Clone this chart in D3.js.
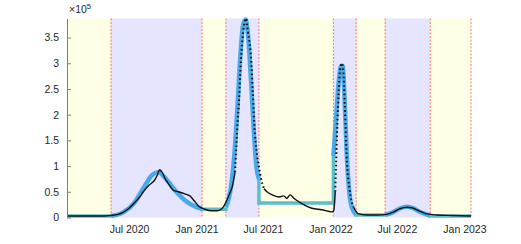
<!DOCTYPE html>
<html>
<head>
<meta charset="utf-8">
<script src="https://cdn.jsdelivr.net/npm/d3@7"></script>
<style>
  body { margin: 0; background: #fff; }
  text { font-family: "Liberation Sans", Arial, sans-serif; fill: #262626; }
</style>
</head>
<body>
<div id="chart"></div>
<script>
const obsDates = ["2020-01-14","2020-03-01","2020-04-25","2020-05-13","2020-06-01","2020-06-15","2020-07-01","2020-07-15",
  "2020-07-28","2020-08-11","2020-08-25","2020-09-08","2020-09-16","2020-09-22","2020-09-30","2020-10-05","2020-10-19",
  "2020-10-30","2020-11-13","2020-11-30","2020-12-14","2020-12-25","2021-01-07","2021-01-24","2021-02-12","2021-02-25",
  "2021-03-11","2021-03-25","2021-04-02","2021-04-08","2021-04-16","2021-04-23","2021-04-27","2021-05-02","2021-05-08",
  "2021-05-16","2021-05-21","2021-05-30","2021-06-03","2021-06-07","2021-06-15","2021-06-21","2021-06-26","2021-07-04",
  "2021-07-12","2021-07-26","2021-08-14","2021-08-27","2021-09-04","2021-09-13","2021-09-24","2021-10-15","2021-11-11",
  "2021-12-08","2022-01-05","2022-01-10","2022-01-14","2022-01-20","2022-01-23","2022-01-27","2022-02-01","2022-02-05",
  "2022-02-09","2022-02-14","2022-02-22","2022-03-05","2022-03-19","2022-04-10","2022-05-07","2022-06-03","2022-06-23",
  "2022-07-09","2022-07-28","2022-08-11","2022-08-30","2022-09-21","2022-10-18","2022-11-28","2023-01-19"];
const obsValues = [0.03,0.03,0.03,0.04,0.06,0.10,0.18,0.28,
  0.38,0.52,0.63,0.72,0.82,0.93,0.87,0.79,0.63,
  0.53,0.50,0.46,0.42,0.33,0.22,0.16,0.13,0.13,
  0.17,0.34,0.48,0.59,0.88,1.86,2.30,3.06,3.60,
  3.87,3.60,3.06,2.50,1.86,1.22,0.95,0.75,0.56,
  0.50,0.44,0.40,0.42,0.37,0.44,0.37,0.27,0.18,
  0.15,0.11,0.14,0.50,1.86,2.40,2.85,3.00,2.85,
  2.20,1.20,0.55,0.20,0.07,0.05,0.05,0.06,0.11,
  0.17,0.20,0.19,0.13,0.07,0.05,0.04,0.03];

// period boundaries (red dashed lines)
const bounds = ["2020-01-14","2020-05-13","2021-01-16","2021-03-22","2021-06-20","2022-01-09","2022-03-12","2022-05-30","2022-09-30","2023-01-19"];
// constant model level in the yellow periods
const flatLevels = [0.03, 0.16, 0.28, 0.05, 0.03];

// fitted wave curves in the blue periods
const waveDates = [
  ["2020-05-13","2020-06-15","2020-07-15","2020-08-10","2020-09-01","2020-09-18","2020-10-10","2020-11-01","2020-12-01","2021-01-01","2021-01-16"],
  ["2021-03-22","2021-04-05","2021-04-15","2021-04-23","2021-05-01","2021-05-08","2021-05-15","2021-05-22","2021-05-30","2021-06-06","2021-06-13","2021-06-20"],
  ["2022-01-09","2022-01-16","2022-01-23","2022-01-30","2022-02-03","2022-02-08","2022-02-14","2022-02-20","2022-02-28","2022-03-12"],
  ["2022-05-30","2022-06-20","2022-07-10","2022-07-28","2022-08-15","2022-09-01","2022-09-15","2022-09-30"]
];
const waveValues = [
  [0.03,0.10,0.28,0.58,0.82,0.88,0.75,0.55,0.33,0.20,0.17],
  [0.20,0.60,1.30,2.20,3.20,3.75,3.85,3.50,2.60,1.70,1.00,0.75],
  [1.20,1.90,2.60,2.95,2.95,2.40,1.30,0.60,0.20,0.06],
  [0.05,0.10,0.18,0.21,0.18,0.11,0.07,0.04]
];

const yTicks = [0, 0.5, 1, 1.5, 2, 2.5, 3, 3.5];
const xTickDates = ["2020-07-01","2021-01-01","2021-07-01","2022-01-01","2022-07-01","2023-01-01"];
const xTickLabels = ["Jul 2020","Jan 2021","Jul 2021","Jan 2022","Jul 2022","Jan 2023"];

// steep peak stretches where the observed points show up as dots
const dottedSpans = [["2021-04-12","2021-06-28"], ["2022-01-12","2022-02-26"]];

const parse = d3.timeParse("%Y-%m-%d");
const W = 521, H = 244;
const margin = {top: 18.5, right: 50, bottom: 26.5, left: 67};
const yMax = 3.87;

const svg = d3.select("#chart").append("svg")
  .attr("width", W).attr("height", H);

const x = d3.scaleTime()
  .domain([parse(bounds[0]), parse(bounds[bounds.length - 1])])
  .range([margin.left, W - margin.right]);
const y = d3.scaleLinear()
  .domain([0, yMax])
  .range([H - margin.bottom, margin.top]);

// background bands
const bandColors = ["#ffffe6", "#e5e5ff"];
for (let i = 0; i < bounds.length - 1; i++) {
  svg.append("rect")
    .attr("x", x(parse(bounds[i])))
    .attr("y", y(yMax))
    .attr("width", x(parse(bounds[i + 1])) - x(parse(bounds[i])))
    .attr("height", y(0) - y(yMax))
    .attr("fill", bandColors[i % 2]);
}

// red dashed boundaries
svg.selectAll(".bound")
  .data(bounds.slice(1))
  .enter().append("line")
  .attr("x1", d => x(parse(d))).attr("x2", d => x(parse(d)))
  .attr("y1", y(yMax)).attr("y2", y(0))
  .attr("stroke", "#ff5050")
  .attr("stroke-width", 0.8)
  .attr("stroke-dasharray", "2,1.5");

const line = d3.line()
  .x(d => x(d.date))
  .y(d => y(d.value));

const smooth = d3.line()
  .x(d => x(d.date))
  .y(d => y(d.value))
  .curve(d3.curveMonotoneX);

// flat (teal) pieces with their jumps
const waveStart = waveValues.map(v => v[0]);
const waveEnd = waveValues.map(v => v[v.length - 1]);
for (let k = 0; k < flatLevels.length; k++) {
  const s = parse(bounds[2 * k]), e = parse(bounds[2 * k + 1]);
  const pts = [];
  if (k > 0) pts.push({date: s, value: waveEnd[k - 1]});
  pts.push({date: s, value: flatLevels[k]});
  pts.push({date: e, value: flatLevels[k]});
  if (k < waveStart.length) pts.push({date: e, value: waveStart[k]});
  svg.append("path")
    .attr("d", line(pts))
    .attr("fill", "none")
    .attr("stroke", "#5bbfcb")
    .attr("stroke-width", 3.5);
}

// wave fits (blue)
waveDates.forEach((ds, k) => {
  const pts = ds.map((d, i) => ({date: parse(d), value: waveValues[k][i]}));
  svg.append("path")
    .attr("d", smooth(pts))
    .attr("fill", "none")
    .attr("stroke", "#4aa9e9")
    .attr("stroke-width", 4.5)
    .attr("stroke-linejoin", "round");
});

// observed series, split into solid and dotted stretches
const obs = obsDates.map((d, i) => ({date: parse(d), value: obsValues[i]}));
const inDotted = d => dottedSpans.some(s => d >= parse(s[0]) && d <= parse(s[1]));
let segs = [], cur = [], curDot = inDotted(obs[0].date);
obs.forEach(p => {
  const dot = inDotted(p.date);
  cur.push(p);
  if (dot !== curDot) {
    segs.push({dot: curDot, pts: cur});
    cur = [p];
    curDot = dot;
  }
});
segs.push({dot: curDot, pts: cur});
segs.forEach(sg => {
  svg.append("path")
    .attr("d", smooth(sg.pts))
    .attr("fill", "none")
    .attr("stroke", "#111")
    .attr("stroke-width", sg.dot ? 2 : 1.4)
    .attr("stroke-dasharray", sg.dot ? "1.6,2.6" : null);
});

// y axis
const yAxis = d3.axisLeft(y)
  .tickValues(yTicks)
  .tickFormat(d3.format("~g"))
  .tickSizeInner(-4)
  .tickSizeOuter(0)
  .tickPadding(8);
const gy = svg.append("g")
  .attr("transform", `translate(${margin.left},0)`)
  .call(yAxis);
gy.select(".domain").attr("stroke", "#808080");
gy.selectAll(".tick line").attr("stroke", "#808080");
gy.selectAll("text").style("font-size", "10.5px").attr("fill", "#262626");

// x axis labels (no visible axis line)
const xAxis = d3.axisBottom(x)
  .tickValues(xTickDates.map(parse))
  .tickFormat((d, i) => xTickLabels[i])
  .tickSize(0)
  .tickPadding(8);
const gx = svg.append("g")
  .attr("transform", `translate(0,${y(0)})`)
  .call(xAxis);
gx.select(".domain").remove();
gx.selectAll("text").style("font-size", "10.5px").attr("fill", "#262626");

// exponent label
const ex = svg.append("text")
  .attr("x", margin.left + 2)
  .attr("y", 13)
  .style("font-size", "10.5px");
ex.append("tspan").text("\u00d710");
ex.append("tspan").attr("dy", -4).style("font-size", "7.5px").text("5");
</script>
</body>
</html>
